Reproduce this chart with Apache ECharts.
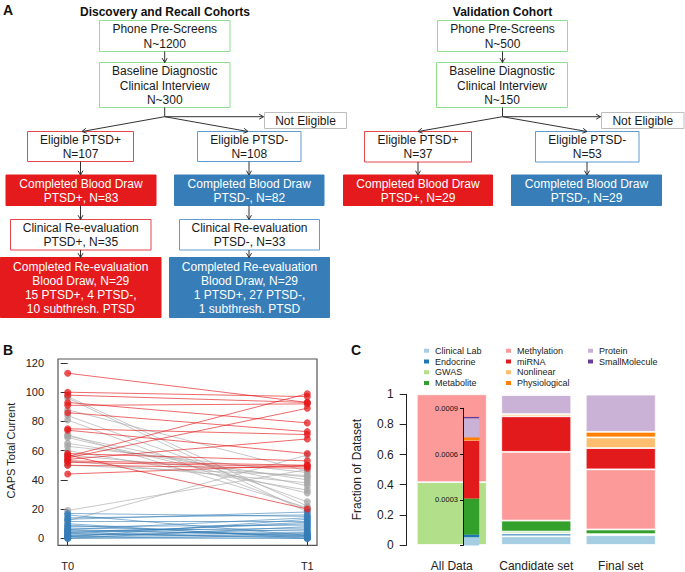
<!DOCTYPE html>
<html><head><meta charset="utf-8">
<script src="https://cdn.jsdelivr.net/npm/echarts@6/dist/echarts.min.js"></script>
<style>html,body{margin:0;padding:0;background:#fff}#main{width:685px;height:572px}</style>
</head><body><div id="main"></div>
<script>
// ---------- Panel B data (CAPS Total Current at T0 / T1) ----------
const timeLabels = ['T0', 'T1'];
const redT0  = [113, 100, 98, 93, 91, 86, 75, 74, 58, 56, 55, 54, 53, 52, 50, 44, 57];
const redT1  = [93, 97, 93, 79, 92, 73, 71, 58, 53, 99, 89, 68, 50, 49, 48, 50, 20];
const grayT0 = [97, 96, 88, 84, 81, 71, 70, 69, 65, 63, 60, 57, 53, 50, 19, 12];
const grayT1 = [22, 18, 46, 25, 20, 21, 36, 31, 40, 45, 33, 42, 38, 43, 47, 57];
const blueT0 = [17, 16, 14, 13, 12, 10, 9, 8, 7, 6, 6, 5, 5, 4, 4, 3, 3, 2, 2, 1, 1, 1, 0, 0, 0];
const blueT1 = [15, 2, 16, 18, 12, 0, 1, 9, 5, 14, 2, 3, 7, 0, 10, 11, 1, 4, 6, 0, 3, 13, 0, 2, 8];

// ---------- Panel C data (fraction of dataset) ----------
const setCategories = ['All Data', 'Candidate set', 'Final set'];
const dataTypes = ['Clinical Lab', 'Endocrine', 'GWAS', 'Metabolite', 'Methylation', 'miRNA', 'Nonlinear', 'Physiological', 'Protein', 'SmallMolecule'];
const clinicalLab   = [0, 0.058, 0.065];
const endocrine     = [0, 0.018, 0];
const gwas          = [0.417, 0.013, 0.007];
const metabolite    = [0, 0.073, 0.031];
const methylation   = [0.583, 0.456, 0.399];
const mirna         = [0, 0.236, 0.141];
const nonlinear     = [0, 0.015, 0.071];
const physiological = [0, 0, 0.037];
const protein       = [0, 0.126, 0.247];
const smallMolecule = [0, 0.007, 0];
// inset: small data types within "All Data"
const allDataInset = [0.0000549, 0.0000176, 0, 0.000235, 0, 0.00038, 0.000004, 0.000018, 0.000125, 0.0000088];
const insetTicks = [0.0003, 0.0006, 0.0009];

// ---------- Panel A flowchart text ----------
const flowBoxes = [
  ['Phone Pre-Screens\nN~1200', 'green'],
  ['Baseline Diagnostic\nClinical Interview\nN~300', 'green'],
  ['Not Eligible', 'gray'],
  ['Eligible PTSD+\nN=107', 'redline'],
  ['Eligible PTSD-\nN=108', 'blueline'],
  ['Completed Blood Draw\nPTSD+, N=83', 'redfill'],
  ['Completed Blood Draw\nPTSD-, N=82', 'bluefill'],
  ['Clinical Re-evaluation\nPTSD+, N=35', 'redline'],
  ['Clinical Re-evaluation\nPTSD-, N=33', 'blueline'],
  ['Completed Re-evaluation\nBlood Draw, N=29\n15 PTSD+, 4 PTSD-,\n10 subthresh. PTSD', 'redfill'],
  ['Completed Re-evaluation\nBlood Draw, N=29\n1 PTSD+, 27 PTSD-,\n1 subthresh. PTSD', 'bluefill'],
  ['Phone Pre-Screens\nN~500', 'green'],
  ['Baseline Diagnostic\nClinical Interview\nN~150', 'green'],
  ['Not Eligible', 'gray'],
  ['Eligible PTSD+\nN=37', 'redline'],
  ['Eligible PTSD-\nN=53', 'blueline'],
  ['Completed Blood Draw\nPTSD+, N=29', 'redfill'],
  ['Completed Blood Draw\nPTSD-, N=29', 'bluefill']
];

// ---------- layout / styles ----------
const FF = 'Liberation Sans, Arial, Helvetica, sans-serif';
const boxRects = [
  [99.5, 20.5, 130.5, 31], [99.5, 62.5, 130.5, 45], [264.5, 112.5, 82, 16],
  [27.5, 131.5, 106, 30], [197.5, 131.5, 103.5, 30],
  [6, 175, 150, 30.5], [174.5, 175, 149.5, 30.5],
  [10.5, 219.5, 140.5, 30.5], [179.5, 219.5, 140, 30.5],
  [0.5, 257.5, 160.5, 60], [169.5, 257.5, 160, 60],
  [437.5, 20.5, 130, 31], [436.5, 62.5, 131, 45], [601.5, 112.5, 82.5, 16],
  [364.5, 131.5, 107, 30.5], [535.5, 131.5, 103.5, 30.5],
  [343.5, 175, 149, 30.5], [511.5, 175, 150, 30.5]
];
const boxStyles = {
  green:    { fill: '#fff', stroke: '#90e090', text: '#1a1a1a' },
  gray:     { fill: '#fff', stroke: '#bdbdbd', text: '#1a1a1a' },
  redline:  { fill: '#fff', stroke: '#e8474a', text: '#1a1a1a' },
  blueline: { fill: '#fff', stroke: '#5e9bd0', text: '#1a1a1a' },
  redfill:  { fill: '#E41A1C', stroke: '#E41A1C', text: '#fff' },
  bluefill: { fill: '#377EB8', stroke: '#377EB8', text: '#fff' }
};
const arrows = [
  [164.7, 51.5, 164.7, 62.5, 1], [164.7, 107.5, 164.7, 116.7, 0],
  [164.7, 116.7, 263.5, 116.7, 1], [164.7, 116.7, 82, 131.5, 1], [164.7, 116.7, 248, 131.5, 1],
  [80.5, 161.5, 80.5, 175, 1], [249, 161.5, 249, 175, 1],
  [80.5, 205.5, 80.5, 219.5, 1], [249, 205.5, 249, 219.5, 1],
  [80.5, 250, 80.5, 257.5, 1], [249, 250, 249, 257.5, 1],
  [502.5, 51.5, 502.5, 62.5, 1], [502.5, 107.5, 502.5, 116.7, 0],
  [502.5, 116.7, 600.5, 116.7, 1], [502.5, 116.7, 418, 131.5, 1], [502.5, 116.7, 587, 131.5, 1],
  [418, 162, 418, 175, 1], [587, 162, 587, 175, 1]
];
const dataColors = ['#A6CEE3', '#1F78B4', '#B2DF8A', '#33A02C', '#FB9A99', '#E31A1C', '#FDBF6F', '#FF7F00', '#CAB2D6', '#6A3D9A'];

const graphics = [];
flowBoxes.forEach((b, i) => {
  const [x, y, w, h] = boxRects[i];
  const st = boxStyles[b[1]];
  graphics.push({ type: 'rect', shape: { x, y, width: w, height: h }, style: { fill: st.fill, stroke: st.stroke, lineWidth: 1 }, silent: true });
  graphics.push({ type: 'text', x: x + w / 2, y: y + h / 2 + 0.5, silent: true,
    style: { text: b[0], fill: st.text, font: '12px ' + FF, lineHeight: 14.3,
      align: 'center', verticalAlign: 'middle', textAlign: 'center', textVerticalAlign: 'middle' } });
});
arrows.forEach(a => {
  const [x1, y1, x2, y2, head] = a;
  graphics.push({ type: 'polyline', shape: { points: [[x1, y1], [x2, y2]] }, style: { stroke: '#333', lineWidth: 1, fill: null }, silent: true });
  if (head) {
    const ang = Math.atan2(y2 - y1, x2 - x1), L = 5, s = Math.PI / 6;
    graphics.push({ type: 'polyline', silent: true, style: { stroke: '#333', lineWidth: 1, fill: null },
      shape: { points: [[x2 - L * Math.cos(ang - s), y2 - L * Math.sin(ang - s)], [x2, y2], [x2 - L * Math.cos(ang + s), y2 - L * Math.sin(ang + s)]] } });
  }
});
const headings = [
  ['A', 3, 10, 'bold 14px', 'left'], ['B', 3, 350, 'bold 14px', 'left'], ['C', 351, 350, 'bold 14px', 'left'],
  ['Discovery and Recall Cohorts', 165, 11.5, 'bold 12px', 'center'], ['Validation Cohort', 502.5, 11.5, 'bold 12px', 'center']
];
headings.forEach(t => graphics.push({ type: 'text', x: t[1], y: t[2], silent: true,
  style: { text: t[0], fill: '#111', font: t[3] + ' ' + FF, align: t[4], verticalAlign: 'middle', textAlign: t[4], textVerticalAlign: 'middle' } }));

// ---------- series ----------
function pairLines(a, b) { return a.map((v, i) => ({ coords: [[0, v], [1, b[i]]] })); }
function pairPoints(a, b) { return a.map(v => [0, v]).concat(b.map(v => [1, v])); }
const groupsB = [
  { t0: grayT0, t1: grayT1, line: '#aaaaaa', lop: 0.65, pt: '#a3a3a3' },
  { t0: blueT0, t1: blueT1, line: '#377EB8', lop: 0.6, pt: '#377EB8' },
  { t0: redT0, t1: redT1, line: '#E41A1C', lop: 0.65, pt: '#E41A1C' }
];
const series = [];
groupsB.forEach(g => series.push({ type: 'lines', coordinateSystem: 'cartesian2d', xAxisIndex: 0, yAxisIndex: 0,
  data: pairLines(g.t0, g.t1), lineStyle: { color: g.line, width: 1, opacity: g.lop }, silent: true, z: 2 }));
groupsB.forEach(g => series.push({ type: 'scatter', xAxisIndex: 0, yAxisIndex: 0, data: pairPoints(g.t0, g.t1),
  symbolSize: 7, clip: false, itemStyle: { color: g.pt, opacity: 0.75 }, silent: true, z: 3 }));

const mainVals = [clinicalLab, endocrine, gwas, metabolite, methylation, mirna, nonlinear, physiological, protein, smallMolecule];
dataTypes.forEach((name, i) => {
  series.push({ type: 'bar', name, xAxisIndex: 2, yAxisIndex: 2, stack: 'main', barWidth: 70,
    data: mainVals[i].map(v => (v === 0 ? null : v)),
    itemStyle: { color: dataColors[i], borderColor: '#fff', borderWidth: 0.8 }, silent: true, z: 2 });
});
dataTypes.forEach((name, i) => {
  series.push({ type: 'bar', name, xAxisIndex: 3, yAxisIndex: 3, stack: 'inset', barWidth: 15.3,
    data: [allDataInset[i] === 0 ? null : allDataInset[i]],
    itemStyle: { color: dataColors[i] }, silent: true, z: 4 });
});

const legendCommon = { orient: 'vertical', itemWidth: 7, itemHeight: 6, itemGap: 0, icon: 'rect', padding: 0,
  selectedMode: false, textStyle: { fontSize: 9, lineHeight: 10.8, color: '#222', fontFamily: FF } };

const option = {
  animation: false,
  backgroundColor: '#fff',
  textStyle: { fontFamily: FF },
  graphic: { elements: graphics },
  legend: [
    Object.assign({ data: dataTypes.slice(0, 4), left: 422, top: 345.3 }, legendCommon),
    Object.assign({ data: dataTypes.slice(4, 8), left: 504, top: 345.3 }, legendCommon),
    Object.assign({ data: dataTypes.slice(8), left: 586, top: 345.3 }, legendCommon)
  ],
  grid: [
    { left: 67.7, top: 363, width: 239.6, height: 175.3 },
    { left: 58, top: 359, width: 259, height: 186.3, show: true, borderColor: '#555', borderWidth: 1.2, backgroundColor: 'transparent' },
    { left: 409.5, top: 394.3, width: 253.5, height: 151.2 },
    { left: 463, top: 408.3, width: 17, height: 137.2 }
  ],
  xAxis: [
    { type: 'value', gridIndex: 0, min: 0, max: 1, interval: 1, offset: 7,
      axisLine: { show: false }, axisTick: { show: true, length: 7, lineStyle: { color: '#333' } },
      axisLabel: { fontSize: 11, color: '#222', margin: 15, formatter: v => timeLabels[v] }, splitLine: { show: false } },
    { type: 'value', gridIndex: 1, show: false, min: 0, max: 1 },
    { type: 'category', gridIndex: 2, data: setCategories, axisLine: { show: false }, axisTick: { show: false },
      axisLabel: { fontSize: 12, color: '#222', margin: 15, interval: 0, hideOverlap: false } },
    { type: 'category', gridIndex: 3, data: [setCategories[0]], show: false }
  ],
  yAxis: [
    { type: 'value', gridIndex: 0, min: 0, max: 120, interval: 20, offset: 9.7,
      axisLine: { show: false }, axisTick: { show: true, length: 7, lineStyle: { color: '#333' } },
      axisLabel: { fontSize: 11, color: '#222', margin: 14 }, splitLine: { show: false },
      name: 'CAPS Total Current', nameLocation: 'middle', nameGap: 42, nameTextStyle: { fontSize: 11, color: '#222' } },
    { type: 'value', gridIndex: 1, show: false, min: 0, max: 1 },
    { type: 'value', gridIndex: 2, min: 0, max: 1, interval: 0.2, offset: 2.8,
      axisLine: { show: true, lineStyle: { color: '#222', width: 1 } }, axisTick: { show: true, length: 7, lineStyle: { color: '#222' } },
      axisLabel: { fontSize: 12, color: '#222', margin: 13 }, splitLine: { show: false },
      name: 'Fraction of Dataset', nameLocation: 'middle', nameGap: 44, nameTextStyle: { fontSize: 12, color: '#222' } },
    { type: 'value', gridIndex: 3, min: 0, max: 0.0009, interval: 0.0003, z: 10,
      axisLine: { show: true, lineStyle: { color: '#111', width: 1 } }, axisTick: { show: true, length: 3, lineStyle: { color: '#111' } },
      axisLabel: { fontSize: 7.5, color: '#111', margin: 5, formatter: v => (insetTicks.some(t => Math.abs(t - v) < 1e-9) ? v.toFixed(4) : '') },
      splitLine: { show: false } }
  ],
  series
};
const chart = echarts.init(document.getElementById('main'), null, { renderer: 'svg', width: 685, height: 572 });
chart.setOption(option);
</script></body></html>
